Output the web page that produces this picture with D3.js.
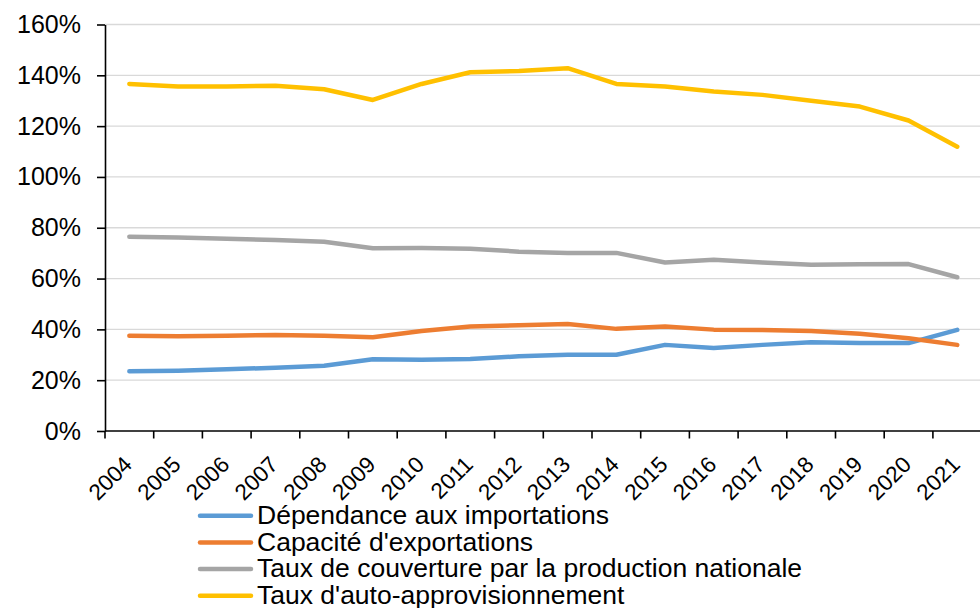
<!DOCTYPE html>
<html>
<head>
<meta charset="utf-8">
<script src="https://cdn.jsdelivr.net/npm/d3@7"></script>
<style>
  html, body { margin: 0; padding: 0; background: #fff; }
  svg { display: block; font-family: "Liberation Sans", Arial, sans-serif; }
</style>
</head>
<body>
<svg id="chart" width="980" height="608"></svg>
<script>
// Years on the category axis
const years = ["2004","2005","2006","2007","2008","2009","2010","2011","2012",
               "2013","2014","2015","2016","2017","2018","2019","2020","2021"];

// Indicator values, in percent
const dependanceImportations = [23.5,23.7,24.3,24.9,25.7,28.2,28.0,28.3,29.4,30.0,30.0,33.9,32.7,33.9,34.9,34.6,34.6,39.8];
const capaciteExportations   = [37.5,37.3,37.5,37.8,37.5,36.9,39.4,41.1,41.6,42.1,40.2,41.1,39.9,39.8,39.4,38.3,36.5,33.9];
const tauxCouverture         = [76.5,76.2,75.7,75.2,74.5,71.9,72.0,71.7,70.6,70.1,70.1,66.3,67.4,66.3,65.4,65.6,65.7,60.5];
const tauxAutoAppro          = [136.6,135.6,135.6,135.9,134.5,130.3,136.6,141.2,141.7,142.8,136.6,135.6,133.6,132.3,130.0,127.7,122.2,111.9];

const seriesNames  = ["Dépendance aux importations","Capacité d'exportations",
                      "Taux de couverture par la production nationale","Taux d'auto-approvisionnement"];
const seriesColors = ["#5B9BD5","#ED7D31","#A5A5A5","#FFC000"];
const yTicks = [0,20,40,60,80,100,120,140,160];

const series = [dependanceImportations, capaciteExportations, tauxCouverture, tauxAutoAppro]
  .map((values, i) => ({ name: seriesNames[i], color: seriesColors[i], values }));

const svg = d3.select("#chart");
const plotLeft = 105, plotTop = 24.5, plotBottom = 431, step = 48.7;

const x = d3.scaleBand().domain(years).range([plotLeft, plotLeft + step * years.length]).padding(0);
const y = d3.scaleLinear().domain([0, 160]).range([plotBottom, plotTop]);

// Horizontal gridlines
svg.append("g").selectAll("line").data(yTicks.filter(d => d > 0)).join("line")
  .attr("x1", plotLeft).attr("x2", 980)
  .attr("y1", d => y(d)).attr("y2", d => y(d))
  .attr("stroke", "#D9D9D9").attr("stroke-width", 1.3);

// Y axis
const yAxis = svg.append("g").attr("transform", `translate(${plotLeft},0)`)
  .call(d3.axisLeft(y).tickValues(yTicks).tickFormat(d => d + "%").tickSizeInner(8).tickSizeOuter(0).tickPadding(16));
yAxis.select(".domain").attr("stroke", "#000").attr("stroke-width", 1.6);
yAxis.selectAll(".tick line").attr("stroke", "#000").attr("stroke-width", 1.6);
yAxis.selectAll(".tick text").attr("font-size", 25).attr("fill", "#000")
  .attr("font-family", "Liberation Sans, Arial, sans-serif");

// X axis with ticks on the category boundaries
const xAxisG = svg.append("g");
xAxisG.append("line").attr("x1", plotLeft).attr("x2", 980).attr("y1", plotBottom).attr("y2", plotBottom)
  .attr("stroke", "#000").attr("stroke-width", 1.6);
xAxisG.selectAll("line.tick").data(years).join("line").attr("class", "tick")
  .attr("x1", d => x(d)).attr("x2", d => x(d))
  .attr("y1", plotBottom).attr("y2", plotBottom + 7.5)
  .attr("stroke", "#000").attr("stroke-width", 1.6);
xAxisG.selectAll("text").data(years).join("text")
  .attr("transform", d => `translate(${x(d) + x.bandwidth() / 2 + 4},${plotBottom + 35}) rotate(-45)`)
  .attr("text-anchor", "end")
  .attr("font-size", 22.5)
  .attr("fill", "#000")
  .text(d => d);

// Series lines
const line = d3.line()
  .x((d, i) => x(years[i]) + x.bandwidth() / 2)
  .y(d => y(d));

svg.append("g").selectAll("path").data(series).join("path")
  .attr("d", s => line(s.values))
  .attr("fill", "none")
  .attr("stroke", s => s.color)
  .attr("stroke-width", 4.5)
  .attr("stroke-linecap", "round")
  .attr("stroke-linejoin", "round");

// Legend
const legend = svg.append("g").selectAll("g").data(series).join("g")
  .attr("transform", (s, i) => `translate(200,${515.7 + i * 26.7})`);
legend.append("line").attr("x1", 0).attr("x2", 51).attr("y1", 0).attr("y2", 0)
  .attr("stroke", s => s.color).attr("stroke-width", 4.5).attr("stroke-linecap", "round");
legend.append("text").attr("x", 57).attr("y", 0).attr("dy", "0.31em")
  .attr("font-size", 26.5).attr("fill", "#000")
  .text(s => s.name);
</script>
</body>
</html>
